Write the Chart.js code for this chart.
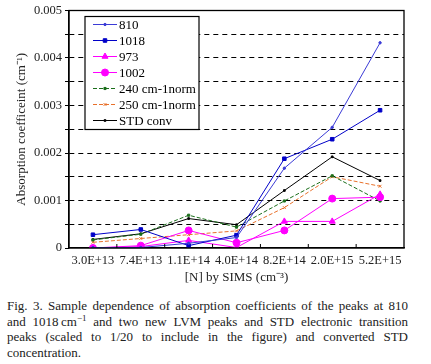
<!DOCTYPE html>
<html>
<head>
<meta charset="utf-8">
<script src="https://cdn.jsdelivr.net/npm/chart.js@4.4.1/dist/chart.umd.min.js"></script>
<style>
  html, body { margin: 0; padding: 0; background: #fff; }
  #wrap { position: relative; width: 431px; height: 285px; }
  #caption {
    position: absolute; left: 7px; top: 298px; width: 401px;
    font-family: "Liberation Serif", "Times New Roman", serif;
    font-size: 13px; line-height: 15.7px; color: #222;
  }
  #caption .j { text-align: justify; text-align-last: justify; white-space: nowrap; }
  #caption .l { text-align: left; }
</style>
</head>
<body>
<div id="wrap"><canvas id="c" width="431" height="285"></canvas></div>
<div id="caption">
  <div class="j">Fig. 3. Sample dependence of absorption coefficients of the peaks at 810</div>
  <div class="j">and 1018&#8201;cm<sup style="font-size:9px;line-height:0">&minus;1</sup> and two new LVM peaks and STD electronic transition</div>
  <div class="j">peaks (scaled to 1/20 to include in the figure) and converted STD</div>
  <div class="l">concentration.</div>
</div>
<script>
const categories = ['3.0E+13', '7.4E+13', '1.1E+14', '4.0E+14', '8.2E+14', '2.0E+15', '5.2E+15'];
const s810  = [0.00001, 0.00001, 0.00010, 0.00022, 0.00168, 0.00254, 0.00432];
const s1018 = [0.00028, 0.00039, 0.00005, 0.00027, 0.00188, 0.00229, 0.00290];
const s973  = [0.00000, 0.00003, 0.00016, 0.00001, 0.00056, 0.00056, 0.00113];
const s1002 = [0.00000, 0.00005, 0.00037, 0.00011, 0.00037, 0.00104, 0.00107];
const s240  = [0.00017, 0.00029, 0.00069, 0.00044, 0.00099, 0.00152, 0.00099];
const s250  = [0.00012, 0.00020, 0.00028, 0.00036, 0.00085, 0.00150, 0.00130];
const sSTD  = [0.00018, 0.00030, 0.00062, 0.00049, 0.00121, 0.00192, 0.00142];
const yTickLabels = ['0', '0.001', '0.002', '0.003', '0.004', '0.005'];

const FONT = '"Liberation Serif", "Times New Roman", serif';

function ds(label, data, color, pointStyle, radius, dash) {
  return {
    label, data,
    borderColor: color, backgroundColor: color,
    borderWidth: 1, borderDash: dash || [],
    pointStyle, pointRadius: radius, pointHoverRadius: radius,
    pointBorderWidth: 1, pointBorderColor: color, pointBackgroundColor: color,
    tension: 0, fill: false
  };
}

const datasets = [
  ds('810', s810, '#3b3bd6', 'circle', 1.2),
  ds('1018', s1018, '#0000c8', 'rect', 2.5),
  ds('973', s973, '#ff00ff', 'triangle', 3.5),
  ds('1002', s1002, '#ff00ff', 'circle', 3.5),
  ds('240 cm-1norm', s240, '#1a6e1a', 'rect', 1.5, [4, 2]),
  ds('250 cm-1norm', s250, '#e8702a', 'crossRot', 2, [4, 2]),
  ds('STD conv', sSTD, '#000000', 'rect', 1.2)
];

const boxPlugin = {
  id: 'box',
  afterDatasetsDraw(chart) {
    const ctx = chart.ctx, a = chart.chartArea;
    ctx.save();
    ctx.strokeStyle = '#000'; ctx.lineWidth = 1.3; ctx.setLineDash([]);
    ctx.strokeRect(a.left, a.top, a.right - a.left, a.bottom - a.top);
    // inward ticks on x axis at category boundaries
    const xs = chart.scales.x;
    ctx.lineWidth = 1;
    for (let i = 0; i < categories.length - 1; i++) {
      const px = (xs.getPixelForValue(i) + xs.getPixelForValue(i + 1)) / 2;
      ctx.beginPath(); ctx.moveTo(px, a.bottom); ctx.lineTo(px, a.bottom - 4); ctx.stroke();
    }
    // legend
    const lx = a.left + 16, ly = a.top + 6, lw = 114, lh = 113;
    ctx.fillStyle = '#fff';
    ctx.fillRect(lx, ly, lw, lh);
    ctx.strokeStyle = '#000'; ctx.lineWidth = 1.2;
    ctx.strokeRect(lx, ly, lw, lh);
    ctx.font = '13px ' + FONT;
    ctx.textBaseline = 'middle';
    chart.data.datasets.forEach((d, i) => {
      const cy = ly + 8 + i * 16;
      ctx.strokeStyle = d.borderColor; ctx.lineWidth = 1;
      ctx.setLineDash(d.borderDash || []);
      ctx.beginPath(); ctx.moveTo(lx + 8, cy); ctx.lineTo(lx + 32, cy); ctx.stroke();
      ctx.setLineDash([]);
      ctx.fillStyle = d.borderColor;
      ctx.strokeStyle = d.borderColor;
      Chart.helpers.drawPoint(ctx, {pointStyle: d.pointStyle, radius: d.pointRadius, borderWidth: 1, rotation: 0}, lx + 20, cy);
      ctx.fillStyle = '#000';
      ctx.fillText(d.label, lx + 34, cy + 1);
    });
    ctx.restore();
  }
};

new Chart(document.getElementById('c'), {
  type: 'line',
  data: { labels: categories, datasets },
  options: {
    responsive: false,
    animation: false,
    layout: { padding: { top: 6, right: 27, left: 0, bottom: 0 } },
    plugins: { legend: { display: false }, tooltip: { enabled: false } },
    scales: {
      x: {
        type: 'category',
        offset: true,
        grid: { display: false, drawTicks: false, offset: true },
        border: { display: true, color: '#000', width: 1.3 },
        ticks: { color: '#222', font: { family: FONT, size: 12.5 }, maxRotation: 0, autoSkip: false, padding: 5 },
        title: { display: true, text: '[N] by SIMS (cm\u207B\u00B3)', color: '#222', font: { family: FONT, size: 13 }, padding: { top: 0, bottom: 0 } },
        afterFit(scale) { scale.height = 37; }
      },
      y: {
        min: 0, max: 0.005,
        ticks: {
          stepSize: 0.0005,
          color: '#222', font: { family: FONT, size: 12.5 }, padding: 3,
          callback(v, i) {
            return (i % 2 === 0) ? yTickLabels[i / 2] : '';
          }
        },
        grid: {
          color(c) { return (c.tick && (c.tick.value === 0 || Math.abs(c.tick.value - 0.005) < 1e-9)) ? 'rgba(0,0,0,0)' : '#000'; },
          tickColor: '#000', tickLength: 4, lineWidth: 1
        },
        border: { display: true, color: '#000', width: 1.3, dash: [5, 4] },
        title: { display: true, text: 'Absorption coefficeint (cm\u207B\u00B9)', color: '#222', font: { family: FONT, size: 13 }, padding: { top: 14, bottom: 2 } },
        afterFit(scale) { scale.width = 69; }
      }
    }
  },
  plugins: [boxPlugin]
});
</script>
</body>
</html>
